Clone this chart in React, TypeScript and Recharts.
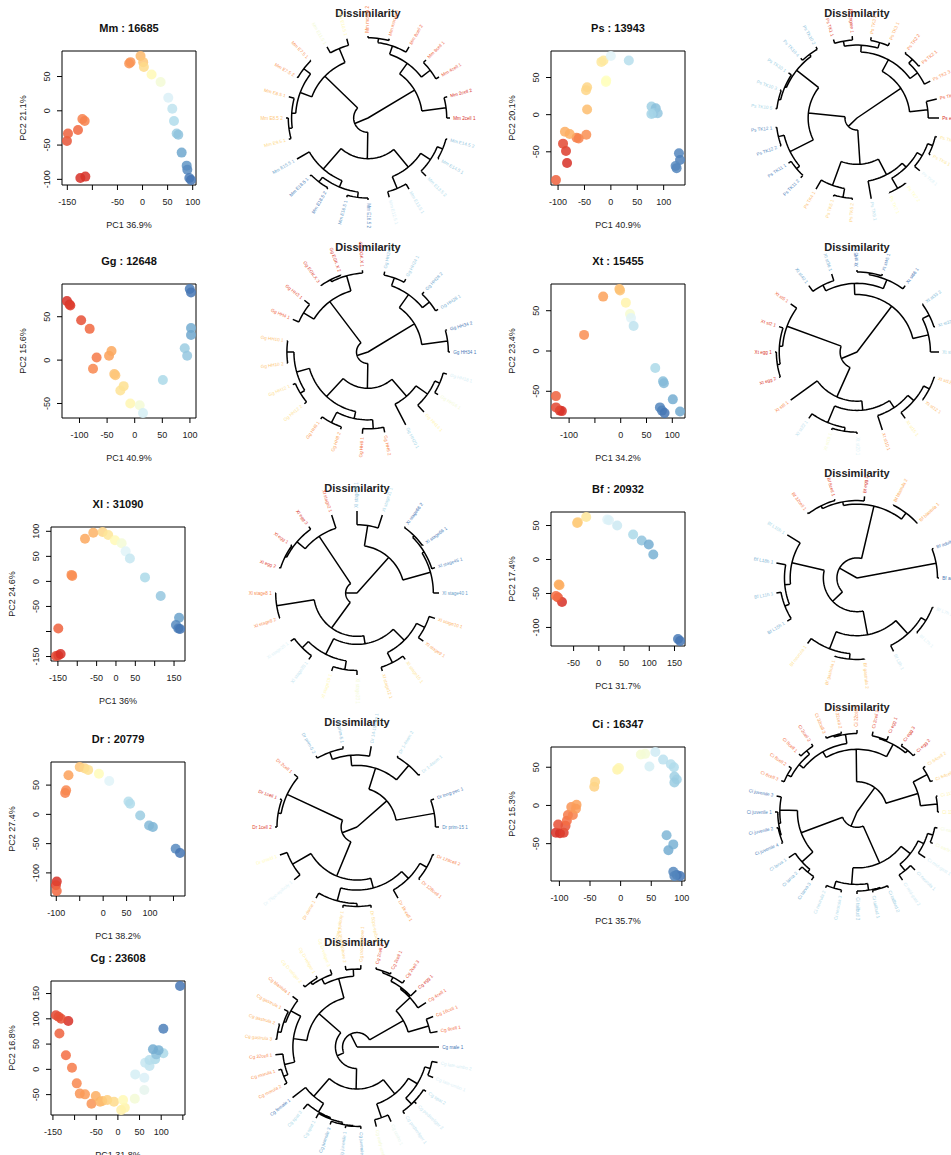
import React from "react";
import { ScatterChart, ComposedChart, Scatter, Line, XAxis, YAxis, ReferenceArea, Label } from "recharts";

const FONT = '"Liberation Sans", Arial, Helvetica, sans-serif';

// RdYlBu, red = earliest sample, blue = latest
const rdylbu = ["#d73027", "#f46d43", "#fdae61", "#fee090", "#ffffbf", "#e0f3f8", "#abd9e9", "#74add1", "#4575b4"];

// ---- Mm ----
const mmSample = "2cell 2cell 4cell 8cell 8cell morula morula E7.5 E7.5 E8.5 E8.5 E9.5 E10.5 E11.5 E12.5 E13.5 E13.5 E14.5 E14.5 E15.5 E16.5 E16.5 E18.5 E18.5".split(" ");
const mmPC1 = [-124, -114, -150.7, -148.7, -128.7, -120, -115.3, -24, -26.7, -4, 1.3, 2.7, 18, 36, 51.3, 59.3, 62.7, 68, 71.3, 78, 88, 89.3, 93.3, 96.7];
const mmPC2 = [-98, -96, -44, -33, -28, -12, -15, 71, 69, 80, 71, 64, 53, 42, 19, 3, -15, -33, -35, -61, -80, -86, -98, -101];
const mmLevel = [0, 0, 0.6, 0.8, 0.9, 1.3, 1.3, 1.6, 1.6, 2.2, 2.5, 2.9, 3.8, 4.4, 5.1, 5.6, 5.9, 6.3, 6.5, 7.1, 7.4, 7.6, 7.9, 8];

// ---- Ps ----
const psSample = "egg zygote TK1 TK1 TK2 TK2 TK2 TK3 TK3 TK4 TK5 TK5 TK6 TK6 TK7 TK7 TK8 TK9 TK10 TK10 TK10 TK10 TK10 TK11 TK11 TK12 TK12".split(" ");
const psPC1 = [-83, -85, -90.6, -104, -65, -61, -46.5, -87, -78, -45, -45, -47, -18, -14, -9.4, -8.8, 0, 34, 77, 85, 80.5, 88.7, 76.7, 129, 131, 122.6, 124.5];
const psPC2 = [-65, -49, -39, -88, -31, -32, -27, -23, -26, 7, 37, 33, 71, 73, 44, 46, 79, 73, 11, 8.6, 2, 2, 1, -52, -61, -69, -72];
const psLevel = [0, 0.2, 0.4, 0.8, 1.3, 1.3, 1.5, 2, 2, 2.3, 2.8, 2.8, 3.3, 3.3, 4, 4, 5, 5.8, 6.2, 6.6, 6.2, 6.4, 6.1, 7.7, 7.8, 7.6, 7.7];

// ---- Gg ----
const ggSample = "EGK.X EGK.X EGK.X HH3 HH4 HH6 HH6 HH8 HH8 HH10 HH10 HH12 HH12 HH14 HH16 HH18 HH20 HH24 HH24 HH28 HH28 HH34 HH34".split(" ");
const ggPC1 = [-122.7, -118, -116.6, -97, -81.6, -69, -75.5, -46.5, -42, -37, -35, -20, -26, -8, 9, 15, 51, 90.6, 95, 102, 102, 99.7, 102];
const ggPC2 = [68, 64, 63, 46, 36, 3, -10, 5, 10.5, -16, -17.5, -30, -35, -50, -52, -61, -23, 13.6, 5, 37, 29, 82, 78];
const ggLevel = [0, 0.1, 0.2, 0.5, 0.9, 1.2, 1.4, 1.8, 1.9, 2.4, 2.5, 3, 3.1, 3.7, 4.4, 5.2, 6, 6.3, 6.4, 7, 7.1, 7.9, 8];

// ---- Xt ----
const xtSample = "egg egg st2 st5 st8 st10 st12 st12 st15 st19 st20 st22 st28 st33 st33 st36 st40 st45 st45 st66".split(" ");
const xtPC1 = [-118, -114, -125.5, -125.5, -71, -34, -2.6, -1.3, 10, 18, 20, 25, 67, 82, 83.7, 101, 115, 76, 80, 85];
const xtPC2 = [-74, -74.6, -70, -56, 20, 67.5, 77, 75, 60, 46, 41, 31, -21, -37.5, -40, -60, -75, -70, -74, -77];
const xtLevel = [0.1, 0, 0.4, 0.8, 1.5, 1.8, 2.3, 2.4, 3.6, 4.3, 5, 5.6, 6, 6.6, 6.7, 7, 7.1, 7.7, 7.8, 8];

// ---- Xl ----
const xlSample = "egg egg egg stage2 stage8 stage8 stage9 stage10 stage12 stage15 stage19 stage23 stage25 stage28 stage31 stage35 stage40 stage45 stage66 stage66".split(" ");
const xlPC1 = [-155, -149, -143, -149, -115, -113, -80, -58.6, -34.5, -20, -2.6, 14.6, 25, 36, 75, 115.5, 163, 155, 161, 165.5];
const xlPC2 = [-149, -148, -145, -94, 13, 11, 85, 97, 98.7, 92.6, 82, 76, 60, 45.6, 8, -29, -72.5, -87, -94, -95];
const xlLevel = [0.4, 0.3, 0, 0.8, 1.5, 1.5, 1.9, 2.1, 2.8, 3.2, 3.8, 4.4, 5, 5.5, 6, 6.4, 7.2, 7.6, 7.8, 8];

// ---- Bf ----
const bfSample = "egg 8cell 32cell blastula blastula gastrula gastrula neurula L7h L7h L8h L10h L11h L15h L18h adult adult".split(" ");
const bfPC1 = [-73, -81, -85, -79.5, -78, -43, -41.7, -25, 16.6, 20, 36.4, 68, 85, 99, 108, 157, 161];
const bfPC2 = [-62.6, -56, -53.8, -36.7, -38, 53.8, 55, 62.6, 58.7, 57.7, 50, 36.7, 28, 22, 7.3, -117, -120];
const bfLevel = [0, 0.6, 1, 2, 2, 2.5, 2.6, 3.2, 5, 5.1, 5.4, 6, 6.5, 7, 6.9, 7.9, 8];

// ---- Dr ----
const drSample = "1cell 1cell 2cell 128cell 128cell 1k-cell dome 50pc-epiboly 50pc-epiboly shield 75pc-epiboly 1-4som 1-4som 14-19som prim-5 prim-5 prim-15 long-pec".split(" ");
const drPC1 = [-99, -100.7, -99, -81, -79, -74, -50, -40, -32, -9, 13, 54, 57.5, 79, 98, 106, 154.7, 164];
const drPC2 = [-114.6, -121, -131, 36.5, 41, 66.7, 81, 79, 76, 69.5, 57, 22, 18, -2, -19, -21.7, -58.7, -66];
const drLevel = [0, 0.3, 0.9, 1.3, 1.4, 1.8, 2.4, 2.8, 3, 3.9, 5, 5.8, 5.9, 6.3, 6.7, 6.8, 7.6, 8];

// ---- Ci ----
const ciSample = "egg egg egg 2cell 2cell 8cell 8cell 8cell 32cell 32cell 32cell 64cell 64cell 112cell 112cell early-gast early-gast mid-gast mid-gast neurula neurula neurula tailbud tailbud tailbud larva larva larva juvenile juvenile juvenile juvenile".split(" ");
const ciPC1 = [-105.6, -99, -93, -102, -90, -87.8, -86, -78, -80.6, -72, -73, -43, -41.7, -5.6, -2.8, 33, 40, 47, 56.7, 69.4, 82, 87, 87.8, 91.7, 87.8, 75, 86, 78, 86, 91.7, 97, 87.8];
const ciPC2 = [-35.6, -36.4, -35.6, -25, -26.7, -20, -12.4, -12.4, -2.2, 0.9, -4.4, 24.4, 31, 46.7, 49, 66.7, 67.5, 51, 70, 60, 54, 50, 37.8, 34, 30, -39, -51, -58.7, -86.7, -91, -92.4, -92.4];
const ciLevel = [0, 0, 0.2, 0.5, 0.6, 1, 1.2, 1.3, 1.6, 1.8, 1.7, 2.7, 2.8, 3.6, 3.7, 4.3, 4.4, 5.2, 5.3, 5.7, 5.8, 5.9, 6.2, 6.2, 6.3, 6.8, 6.9, 7, 7.6, 7.8, 8, 7.7];

// ---- Cg ----
const cgSample = "egg 2cell 2cell 2cell 4cell 8cell 16cell 32cell morula morula blastula gastrula gastrula gastrula trochophore trochophore D-veliger D-veliger D-veliger early-umbo umbo late-umbo late-umbo pediveliger pediveliger spat spat spat juvenile juvenile juvenile female male".split(" ");
const cgPC1 = [-114.5, -143, -137, -131, -135, -120, -106, -95, -88, -76, -61, -51, -41, -36, -24.4, -9, 7.6, 16, 12, 39, 61, 61, 40, 73, 63, 86, 73, 105, 88.5, 94, 81, 105, 143.5];
const cgPC2 = [95.7, 107, 104, 100, 71, 28, 3.3, -27.7, -48, -49.5, -68, -52.8, -64, -62.7, -60.7, -64, -80.5, -76, -60.7, -58, -41, -16.5, -10, 6.6, 13, 20, 18.5, 31.7, 29.7, 38, 39.6, 80.5, 165];
const cgLevel = [0, 0.4, 0.5, 0.5, 0.8, 1, 1.2, 1.4, 1.6, 1.7, 1.6, 2, 2.1, 2.3, 2.6, 2.9, 3.5, 3.6, 3.8, 4.4, 4.8, 5.1, 5.2, 5.6, 5.5, 6, 5.8, 6, 6.5, 6.9, 7, 7.8, 8];

// tick marks and the tick labels R kept
const mmXTicks = [-150, -100, -50, 0, 50, 100];
const mmXLabels = [-150, -50, 0, 50, 100];
const mmYTicks = [-100, -50, 0, 50];
const psXTicks = [-100, -50, 0, 50, 100];
const psYTicks = [-50, 0, 50];
const ggXTicks = [-100, -50, 0, 50, 100];
const ggYTicks = [-50, 0, 50];
const xtXTicks = [-100, -50, 0, 50, 100];
const xtXLabels = [-100, 0, 50, 100];
const xtYTicks = [-50, 0, 50];
const xlXTicks = [-150, -100, -50, 0, 50, 100, 150];
const xlXLabels = [-150, -50, 0, 50, 150];
const xlYTicks = [-150, -100, -50, 0, 50, 100];
const xlYLabels = [-150, -50, 0, 50, 100];
const bfXTicks = [-50, 0, 50, 100, 150];
const bfYTicks = [-100, -50, 0, 50];
const drXTicks = [-100, -50, 0, 50, 100, 150];
const drXLabels = [-100, 0, 50, 100];
const drYTicks = [-100, -50, 0, 50];
const ciXTicks = [-100, -50, 0, 50, 100];
const ciYTicks = [-50, 0, 50];
const cgXTicks = [-150, -100, -50, 0, 50, 100, 150];
const cgXLabels = [-150, -50, 0, 50, 100];
const cgYTicks = [-50, 0, 50, 100, 150];

const panels = [
  { sp: "Mm", genes: 16685, v1: "36.9", v2: "21.1", pc1: mmPC1, pc2: mmPC2, level: mmLevel, sample: mmSample, xt: mmXTicks, xl: mmXLabels, yt: mmYTicks, yl: mmYTicks, box: [62, 51], tree: [368, 118] },
  { sp: "Ps", genes: 13943, v1: "40.9", v2: "20.1", pc1: psPC1, pc2: psPC2, level: psLevel, sample: psSample, xt: psXTicks, xl: psXTicks, yt: psYTicks, yl: psYTicks, box: [551, 51], tree: [857, 118] },
  { sp: "Gg", genes: 12648, v1: "40.9", v2: "15.6", pc1: ggPC1, pc2: ggPC2, level: ggLevel, sample: ggSample, xt: ggXTicks, xl: ggXTicks, yt: ggYTicks, yl: ggYTicks, box: [62, 284], tree: [368, 352] },
  { sp: "Xt", genes: 15455, v1: "34.2", v2: "23.4", pc1: xtPC1, pc2: xtPC2, level: xtLevel, sample: xtSample, xt: xtXTicks, xl: xtXLabels, yt: xtYTicks, yl: xtYTicks, box: [551, 284], tree: [857, 352] },
  { sp: "Xl", genes: 31090, v1: "36", v2: "24.6", pc1: xlPC1, pc2: xlPC2, level: xlLevel, sample: xlSample, xt: xlXTicks, xl: xlXLabels, yt: xlYTicks, yl: xlYLabels, box: [51, 527], tree: [357, 593] },
  { sp: "Bf", genes: 20932, v1: "31.7", v2: "17.4", pc1: bfPC1, pc2: bfPC2, level: bfLevel, sample: bfSample, xt: bfXTicks, xl: bfXTicks, yt: bfYTicks, yl: bfYTicks, box: [551, 512], tree: [857, 578] },
  { sp: "Dr", genes: 20779, v1: "38.2", v2: "27.4", pc1: drPC1, pc2: drPC2, level: drLevel, sample: drSample, xt: drXTicks, xl: drXLabels, yt: drYTicks, yl: drYTicks, box: [51, 762], tree: [357, 827] },
  { sp: "Ci", genes: 16347, v1: "35.7", v2: "15.3", pc1: ciPC1, pc2: ciPC2, level: ciLevel, sample: ciSample, xt: ciXTicks, xl: ciXTicks, yt: ciYTicks, yl: ciYTicks, box: [551, 747], tree: [857, 812] },
  { sp: "Cg", genes: 23608, v1: "31.8", v2: "16.8", pc1: cgPC1, pc2: cgPC2, level: cgLevel, sample: cgSample, xt: cgXTicks, xl: cgXLabels, yt: cgYTicks, yl: cgYTicks, box: [51, 981], tree: [357, 1047] },
];

const BOX = 134;

function tone(level: number) {
  const i = Math.min(Math.floor(level), rdylbu.length - 2);
  const f = level - i;
  const a = rdylbu[i], b = rdylbu[i + 1];
  const ch = (h: string, k: number) => parseInt(h.slice(1 + 2 * k, 3 + 2 * k), 16);
  const mix = [0, 1, 2].map((k) => Math.round(ch(a, k) + (ch(b, k) - ch(a, k)) * f));
  return `rgb(${mix.join(",")})`;
}

// R's default 4% axis padding
function padded(v: number[]): [number, number] {
  const lo = Math.min(...v), hi = Math.max(...v), p = (hi - lo) * 0.04;
  return [lo - p, hi + p];
}

function sampleNames(sp: string, sample: string[]) {
  const seen: Record<string, number> = {};
  return sample.map((s) => {
    seen[s] = (seen[s] || 0) + 1;
    return `${sp} ${s} ${seen[s]}`;
  });
}

// complete-linkage clustering of the samples
function clusterTree(xs: number[], ys: number[]) {
  const kids: ([number, number] | null)[] = xs.map(() => null);
  const height: number[] = xs.map(() => 0);
  const members: number[][] = xs.map((_, i) => [i]);
  let open = xs.map((_, i) => i);
  while (open.length > 1) {
    let best = Infinity, bi = 0, bj = 1;
    for (let i = 0; i < open.length; i++)
      for (let j = i + 1; j < open.length; j++) {
        let m = 0;
        for (const a of members[open[i]])
          for (const b of members[open[j]]) m = Math.max(m, Math.hypot(xs[a] - xs[b], ys[a] - ys[b]));
        if (m < best) { best = m; bi = i; bj = j; }
      }
    const id = kids.length;
    kids.push([open[bi], open[bj]]);
    height.push(best);
    members.push([...members[open[bi]], ...members[open[bj]]]);
    open = open.filter((_, k) => k !== bi && k !== bj).concat(id);
  }
  return { kids, height, root: open[0] };
}

type Seg = { x: number; y: number | null };

function fanLayout(xs: number[], ys: number[]) {
  const { kids, height, root } = clusterTree(xs, ys);
  const order: number[] = [];
  const walk = (k: number) => {
    const c = kids[k];
    if (!c) order.push(k);
    else { walk(c[0]); walk(c[1]); }
  };
  walk(root);
  const ang: number[] = [], rad: number[] = [];
  order.forEach((leaf, i) => (ang[leaf] = (2 * Math.PI * i) / order.length));
  const H = height[root] || 1;
  const place = (k: number) => {
    rad[k] = 1 - height[k] / H;
    const c = kids[k];
    if (c) { place(c[0]); place(c[1]); ang[k] = (ang[c[0]] + ang[c[1]]) / 2; }
  };
  place(root);
  const segs: Seg[] = [];
  const pt = (r: number, a: number) => ({ x: r * Math.cos(a), y: r * Math.sin(a) });
  const push = (list: { x: number; y: number }[]) => {
    segs.push(...list);
    segs.push({ x: list[list.length - 1].x, y: null });
  };
  kids.forEach((c, k) => {
    if (!c) return;
    const a0 = ang[c[0]], a1 = ang[c[1]];
    const steps = Math.max(1, Math.ceil(Math.abs(a1 - a0) / 0.04));
    const arc = [];
    for (let s = 0; s <= steps; s++) arc.push(pt(rad[k], a0 + ((a1 - a0) * s) / steps));
    push(arc);
    for (const ch of c) push([pt(rad[k], ang[ch]), pt(rad[ch], ang[ch])]);
  });
  return { segs, ang };
}

const Dot = (props: any) => (
  <circle cx={props.cx} cy={props.cy} r={5} fill={props.payload.color} fillOpacity={0.85} />
);

const LeafLabel = (props: any) => {
  const { cx, cy, payload } = props;
  const left = payload.deg > 90 && payload.deg < 270;
  const rot = left ? 180 - payload.deg : -payload.deg;
  return (
    <text x={cx} y={cy} transform={`rotate(${rot} ${cx} ${cy})`} textAnchor={left ? "end" : "start"}
      dominantBaseline="central" fontSize={4.6} fill={payload.color} fontFamily={FONT}>
      {payload.text}
    </text>
  );
};

function PcaPanel({ p }: { p: any }) {
  const pts = p.pc1.map((x: number, i: number) => ({ x, y: p.pc2[i], color: tone(p.level[i]) }));
  const xd = padded(p.pc1);
  const yd = padded(p.pc2);
  const xTick = (t: any) =>
    p.xl.includes(t.payload.value) ? (
      <text x={t.x} y={t.y + 10} textAnchor="middle" dominantBaseline="central" fontSize={9} fill="#222" fontFamily={FONT}>
        {t.payload.value}
      </text>
    ) : <g />;
  const yTick = (t: any) =>
    p.yl.includes(t.payload.value) ? (
      <text x={t.x - 8} y={t.y} transform={`rotate(-90 ${t.x - 8} ${t.y})`} textAnchor="middle" dominantBaseline="central"
        fontSize={9} fill="#222" fontFamily={FONT}>
        {t.payload.value}
      </text>
    ) : <g />;
  return (
    <>
      <div style={{ position: "absolute", left: p.box[0], top: p.box[1] - 29, width: BOX, textAlign: "center",
        fontSize: 11, lineHeight: "13px", fontWeight: "bold", color: "#111" }}>
        {`${p.sp} : ${p.genes}`}
      </div>
      <div style={{ position: "absolute", left: p.box[0] - 45, top: p.box[1] - 30 }}>
        <ScatterChart width={BOX + 53} height={BOX + 80} margin={{ top: 30, right: 8, bottom: 0, left: 0 }}>
          <XAxis type="number" dataKey="x" domain={xd} ticks={p.xt} interval={0} allowDataOverflow height={50}
            axisLine={false} tickSize={5} tickLine={{ stroke: "#000" }} tick={xTick}>
            <Label content={(lp: any) => (
              <text x={lp.viewBox.x + lp.viewBox.width / 2} y={lp.viewBox.y + 40} textAnchor="middle"
                dominantBaseline="central" fontSize={9} fill="#222" fontFamily={FONT}>
                {`PC1 ${p.v1}%`}
              </text>
            )} />
          </XAxis>
          <YAxis type="number" dataKey="y" domain={yd} ticks={p.yt} interval={0} allowDataOverflow width={45}
            axisLine={false} tickSize={5} tickLine={{ stroke: "#000" }} tick={yTick}>
            <Label content={(lp: any) => {
              const cx = lp.viewBox.x + 6, cy = lp.viewBox.y + lp.viewBox.height / 2;
              return (
                <text x={cx} y={cy} transform={`rotate(-90 ${cx} ${cy})`} textAnchor="middle"
                  dominantBaseline="central" fontSize={9} fill="#222" fontFamily={FONT}>
                  {`PC2 ${p.v2}%`}
                </text>
              );
            }} />
          </YAxis>
          <ReferenceArea x1={xd[0]} x2={xd[1]} y1={yd[0]} y2={yd[1]} fill="none" stroke="#000" strokeWidth={1} />
          <Scatter data={pts} shape={Dot} isAnimationActive={false} />
        </ScatterChart>
      </div>
    </>
  );
}

const S = 120 / 82;

function Dendrogram({ p }: { p: any }) {
  const { segs, ang } = fanLayout(p.pc1, p.pc2);
  const names = sampleNames(p.sp, p.sample);
  const labels = names.map((text: string, i: number) => ({
    x: 1.04 * Math.cos(ang[i]),
    y: 1.04 * Math.sin(ang[i]),
    deg: (ang[i] * 180) / Math.PI,
    text,
    color: tone(p.level[i]),
  }));
  const [cx, cy] = p.tree;
  return (
    <>
      <div style={{ position: "absolute", left: cx - 80, top: cy - 112, width: 160, textAlign: "center",
        fontSize: 11, lineHeight: "14px", fontWeight: "bold", color: "#222" }}>
        Dissimilarity
      </div>
      <div style={{ position: "absolute", left: cx - 120, top: cy - 120 }}>
        <ComposedChart width={240} height={240} margin={{ top: 0, right: 0, bottom: 0, left: 0 }}>
          <XAxis type="number" dataKey="x" domain={[-S, S]} hide allowDataOverflow />
          <YAxis type="number" dataKey="y" domain={[-S, S]} hide allowDataOverflow />
          <Line data={segs} dataKey="y" stroke="#000" strokeWidth={1.5} dot={false} activeDot={false}
            connectNulls={false} isAnimationActive={false} />
          <Scatter data={labels} dataKey="y" shape={LeafLabel} isAnimationActive={false} />
        </ComposedChart>
      </div>
    </>
  );
}

export default function App() {
  return (
    <div style={{ position: "absolute", left: 0, top: 0, width: 951, height: 1155, overflow: "hidden",
      background: "#fff", fontFamily: FONT }}>
      {panels.map((p) => (
        <React.Fragment key={p.sp}>
          <PcaPanel p={p} />
          <Dendrogram p={p} />
        </React.Fragment>
      ))}
    </div>
  );
}
